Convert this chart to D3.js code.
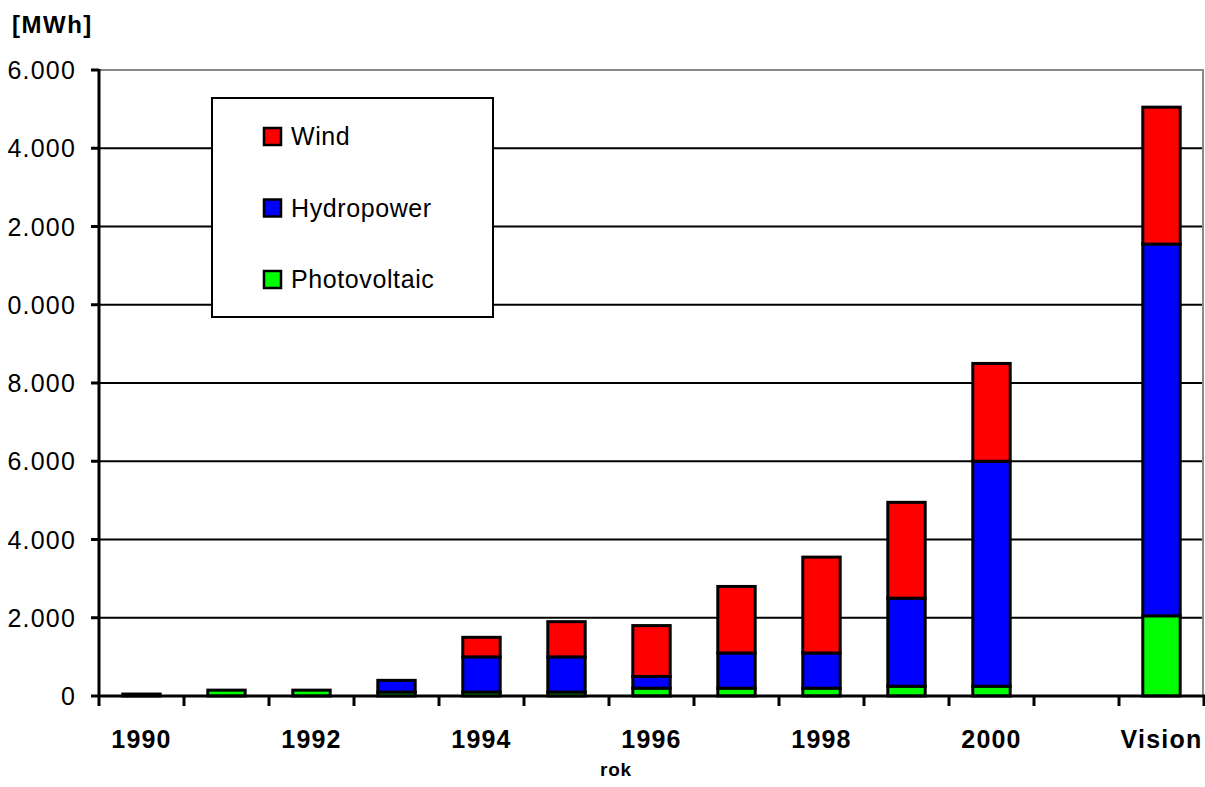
<!DOCTYPE html>
<html>
<head>
<meta charset="utf-8">
<script src="https://cdn.jsdelivr.net/npm/d3@7"></script>
<style>
	body { margin: 0; background: #fff; }
	svg { display: block; font-family: Arial, "Liberation Sans", Helvetica, sans-serif; }
</style>
</head>
<body>
<svg width="1205" height="787"></svg>
<script>
// data
var years = ["1990", "1991", "1992", "1993", "1994", "1995", "1996", "1997", "1998", "1999", "2000", "", "Vision"];
var photovoltaic = [50, 150, 150, 100, 100, 100, 200, 200, 200, 250, 250, 0, 2050];
var hydropower = [0, 0, 0, 300, 900, 900, 300, 900, 900, 2250, 5750, 0, 9500];
var wind = [0, 0, 0, 0, 500, 900, 1300, 1700, 2450, 2450, 2500, 0, 3500];
var yTicks = [0, 2000, 4000, 6000, 8000, 10000, 12000, 14000, 16000];
// tick labels as they show in the (left-cropped) picture
var yTickLabels = ["0", "2.000", "4.000", "6.000", "8.000", "0.000", "2.000", "4.000", "6.000"];
var seriesNames = ["Photovoltaic", "Hydropower", "Wind"];
var seriesColors = {"Photovoltaic": "#00ff00", "Hydropower": "#0000ff", "Wind": "#ff0000"};

var svg = d3.select("svg");
var padding = {t: 70, r: 1, b: 91, l: 99};
var svgWidth = +svg.attr("width");
var svgHeight = +svg.attr("height");

var rows = years.map(function(y, i) {
	return {year: y, Photovoltaic: photovoltaic[i], Hydropower: hydropower[i], Wind: wind[i]};
});
var stacked = d3.stack().keys(seriesNames)(rows);

var x = d3.scaleBand()
	.domain(years)
	.range([padding.l, svgWidth - padding.r])
	.paddingInner(0.56)
	.paddingOuter(0.28);

var y = d3.scaleLinear()
	.domain([0, 16000])
	.range([svgHeight - padding.b, padding.t]);

var step = x.step();
var x0 = padding.l;

// plot border (grey) and grid lines
svg.append("line")
	.attr("x1", x0).attr("x2", svgWidth - padding.r)
	.attr("y1", y(16000)).attr("y2", y(16000))
	.attr("stroke", "#8a8a8a").attr("stroke-width", 2);
svg.append("line")
	.attr("x1", svgWidth - padding.r - 1).attr("x2", svgWidth - padding.r - 1)
	.attr("y1", y(16000)).attr("y2", y(0))
	.attr("stroke", "#8a8a8a").attr("stroke-width", 2);

svg.selectAll(".grid")
	.data(yTicks.filter(function(d) { return d > 0 && d < 16000; }))
	.enter()
	.append("line")
	.attr("class", "grid")
	.attr("x1", x0).attr("x2", svgWidth - padding.r - 2)
	.attr("y1", function(d) { return y(d); })
	.attr("y2", function(d) { return y(d); })
	.attr("stroke", "#000").attr("stroke-width", 2);

// legend box (covers the grid)
var legend = svg.append("g");
legend.append("rect")
	.attr("x", 212).attr("y", 98)
	.attr("width", 281).attr("height", 219)
	.attr("fill", "#fff").attr("stroke", "#000").attr("stroke-width", 2);

var legendOrder = ["Wind", "Hydropower", "Photovoltaic"];
legend.selectAll(".sw")
	.data(legendOrder)
	.enter()
	.append("rect")
	.attr("x", 264)
	.attr("y", function(d, i) { return 128 + i * 71.5; })
	.attr("width", 17).attr("height", 17)
	.attr("fill", function(d) { return seriesColors[d]; })
	.attr("stroke", "#000").attr("stroke-width", 2.5);
legend.selectAll(".lt")
	.data(legendOrder)
	.enter()
	.append("text")
	.attr("x", 291)
	.attr("y", function(d, i) { return 145 + i * 71.5; })
	.style("font-size", "25px")
	.style("letter-spacing", "0.6px")
	.text(function(d) { return d; });

// stacked bars
svg.selectAll(".series")
	.data(stacked)
	.enter()
	.append("g")
	.attr("fill", function(d) { return seriesColors[d.key]; })
	.selectAll("rect")
	.data(function(d) { return d.filter(function(v) { return v[1] > v[0]; }); })
	.enter()
	.append("rect")
	.attr("x", function(d) { return x(d.data.year); })
	.attr("width", x.bandwidth())
	.attr("y", function(d) { return y(d[1]); })
	.attr("height", function(d) { return y(d[0]) - y(d[1]); })
	.attr("stroke", "#000")
	.attr("stroke-width", 3);

// axes
svg.selectAll(".yl")
	.data(yTicks)
	.enter()
	.append("text")
	.attr("x", 76)
	.attr("y", function(d) { return y(d) + 9; })
	.attr("text-anchor", "end")
	.style("font-size", "25px")
	.style("letter-spacing", "1.2px")
	.text(function(d, i) { return yTickLabels[i]; });
svg.selectAll(".yt")
	.data(yTicks)
	.enter()
	.append("line")
	.attr("x1", 91).attr("x2", x0)
	.attr("y1", function(d) { return y(d); })
	.attr("y2", function(d) { return y(d); })
	.attr("stroke", "#000").attr("stroke-width", 3);

svg.append("line")
	.attr("x1", x0).attr("x2", x0)
	.attr("y1", y(16000) - 1).attr("y2", y(0) + 10)
	.attr("stroke", "#000").attr("stroke-width", 3);
svg.append("line")
	.attr("x1", x0).attr("x2", svgWidth)
	.attr("y1", y(0)).attr("y2", y(0))
	.attr("stroke", "#000").attr("stroke-width", 3);

svg.selectAll(".xt")
	.data(years)
	.enter()
	.append("line")
	.attr("x1", function(d, i) { return x0 + (i + 1) * step; })
	.attr("x2", function(d, i) { return x0 + (i + 1) * step; })
	.attr("y1", y(0)).attr("y2", y(0) + 10)
	.attr("stroke", "#000").attr("stroke-width", 3);

svg.selectAll(".xl")
	.data(years.filter(function(d, i) { return i % 2 === 0; }))
	.enter()
	.append("text")
	.attr("x", function(d) { return x(d) + x.bandwidth() / 2; })
	.attr("y", 748)
	.attr("text-anchor", "middle")
	.style("font-size", "25px")
	.style("font-weight", "bold")
	.style("letter-spacing", "1.2px")
	.text(function(d) { return d; });

svg.append("text")
	.attr("x", 616)
	.attr("y", 776)
	.attr("text-anchor", "middle")
	.style("font-size", "19px")
	.style("font-weight", "bold")
	.style("letter-spacing", "0.8px")
	.text("rok");

svg.append("text")
	.attr("x", 12)
	.attr("y", 33)
	.style("font-size", "24px")
	.style("font-weight", "bold")
	.style("letter-spacing", "1.5px")
	.text("[MWh]");
</script>
</body>
</html>
